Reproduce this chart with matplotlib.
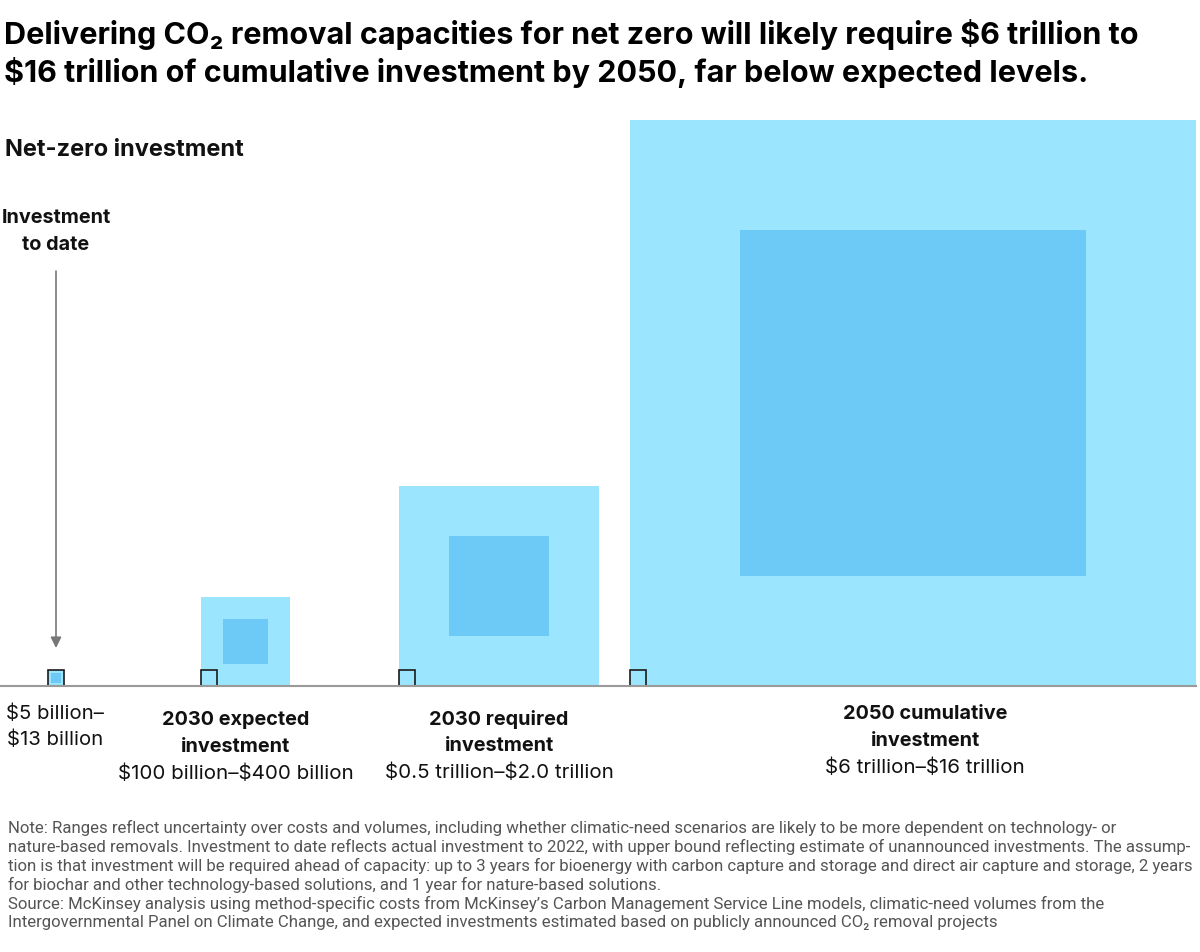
import numpy as np
import matplotlib.pyplot as plt
from matplotlib.patches import Rectangle

plt.rcParams['font.family'] = ['Inter', 'DejaVu Sans']
plt.rcParams['text.parse_math'] = False

# values in $ billion
groups = ['to_date', '2030_expected', '2030_required', '2050_cumulative']
low = [5, 100, 500, 6000]
high = [13, 400, 2000, 16000]
bold_labels = ['', '2030 expected\ninvestment', '2030 required\ninvestment',
               '2050 cumulative\ninvestment']
range_labels = ['$5 billion–\n$13 billion', '$100 billion–$400 billion',
                '$0.5 trillion–$2.0 trillion', '$6 trillion–$16 trillion']

ref_value = high[0]  # investment to date upper bound, shown as outline in every group

light = '#9be6fe'
dark = '#6dc9f6'

W, H = 1200, 953
fig = plt.figure(figsize=(W / 100, H / 100), dpi=100)
ax = fig.add_axes([0, 0, 1, 1])
ax.set_xlim(0, W)
ax.set_ylim(H, 0)
ax.axis('off')

base_y = 687
k = 566 / np.sqrt(16000)  # pixels per sqrt($bn), area proportional to value
lefts = [47.5, 201, 399, 630]
label_x = [55, 236, 499, 925]
label_y = [727, 733.5, 732.5, 727.5]

for i in range(len(groups)):
    s_hi = k * np.sqrt(high[i])
    s_lo = k * np.sqrt(low[i])
    x0 = lefts[i]
    ax.add_patch(Rectangle((x0, base_y - s_hi), s_hi, s_hi, facecolor=light,
                           edgecolor='none', zorder=2))
    cx = x0 + s_hi / 2
    cy = base_y - s_hi / 2
    ax.add_patch(Rectangle((cx - s_lo / 2, cy - s_lo / 2), s_lo, s_lo,
                           facecolor=dark, edgecolor='none', zorder=3))
    s_ref = k * np.sqrt(ref_value)
    ax.add_patch(Rectangle((x0, base_y - s_ref), s_ref, s_ref, facecolor='none',
                           edgecolor='#1a1a1a', linewidth=1.2, zorder=4))

    if bold_labels[i]:
        ax.text(label_x[i], label_y[i], bold_labels[i], ha='center', va='center',
                fontsize=14.3, fontweight='bold', linespacing=1.62, color='#111')
        ax.text(label_x[i], label_y[i] + 40.5, range_labels[i], ha='center',
                va='center', fontsize=14.8, color='#111')
    else:
        ax.text(label_x[i], label_y[i], range_labels[i], ha='center',
                va='center', fontsize=14.6, linespacing=1.55, color='#111')

ax.plot([0, 1196], [base_y, base_y], color='#9a9a9a', linewidth=1.5, zorder=5)

# arrow pointing to investment to date
ax.annotate('', xy=(56, 649), xytext=(56, 272),
            arrowprops=dict(arrowstyle='-|>', color='#777777', lw=1.2,
                            mutation_scale=16, shrinkA=0, shrinkB=0))
ax.text(56, 231.5, 'Investment\nto date', ha='center', va='center', fontsize=14.3,
        fontweight='bold', linespacing=1.62, color='#111')

ax.text(5, 150, 'Net-zero investment', ha='left', va='center', fontsize=17,
        fontweight='bold', color='#111')

ax.text(4, 35, 'Delivering CO₂ removal capacities for net zero will likely require $6 trillion to',
        ha='left', va='center', fontsize=22, fontweight='bold', color='#000')
ax.text(4, 73, '$16 trillion of cumulative investment by 2050, far below expected levels.',
        ha='left', va='center', fontsize=22, fontweight='bold', color='#000')

note_lines = [
    'Note: Ranges reflect uncertainty over costs and volumes, including whether climatic-need scenarios are likely to be more dependent on technology- or',
    'nature-based removals. Investment to date reflects actual investment to 2022, with upper bound reflecting estimate of unannounced investments. The assump-',
    'tion is that investment will be required ahead of capacity: up to 3 years for bioenergy with carbon capture and storage and direct air capture and storage, 2 years',
    'for biochar and other technology-based solutions, and 1 year for nature-based solutions.',
    'Source: McKinsey analysis using method-specific costs from McKinsey’s Carbon Management Service Line models, climatic-need volumes from the',
    'Intergovernmental Panel on Climate Change, and expected investments estimated based on publicly announced CO₂ removal projects',
]
for j, line in enumerate(note_lines):
    ax.text(8, 828 + j * 19, line, ha='left', va='center', fontsize=12.05,
            color='#555555', family=['Roboto', 'DejaVu Sans'])

fig.savefig('out.png', dpi=100)
